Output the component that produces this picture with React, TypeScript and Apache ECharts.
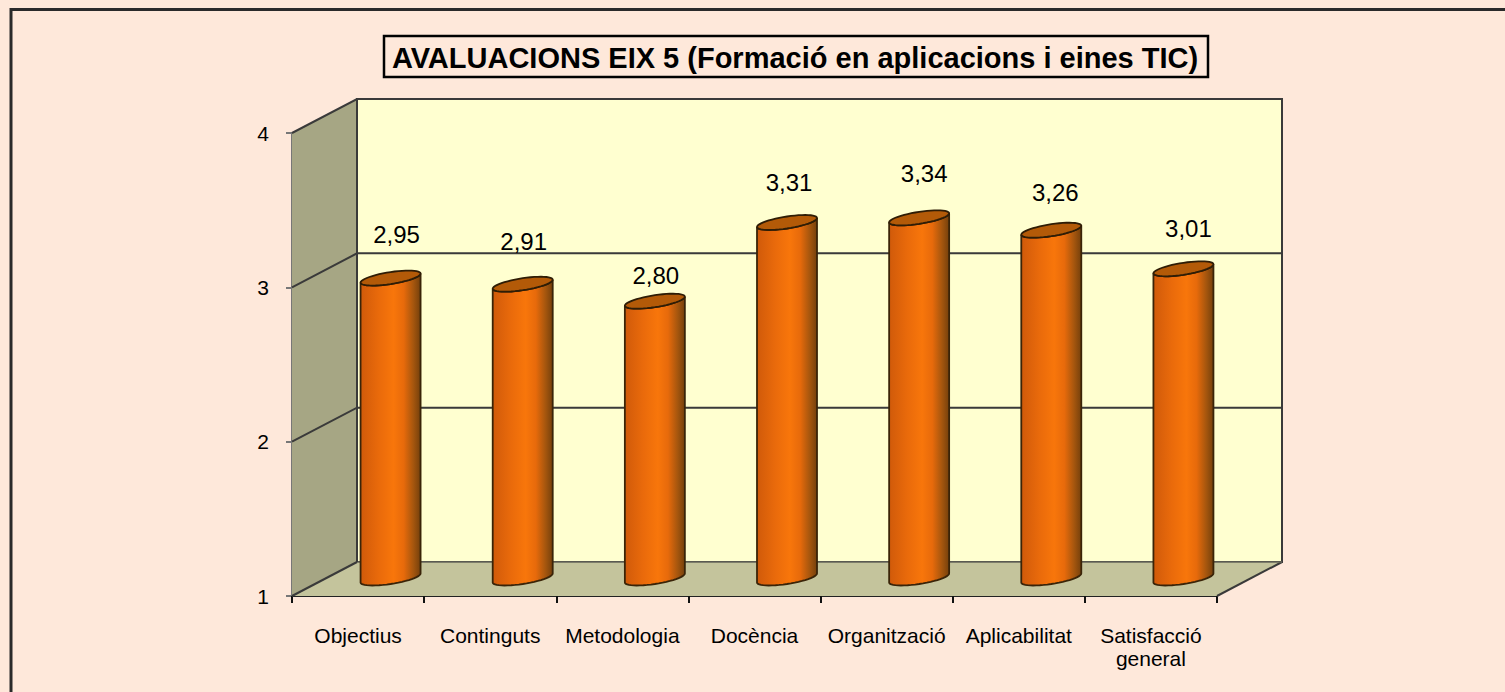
import React, { useEffect, useRef } from "react";
import * as echarts from "echarts";

const categories = ["Objectius", "Continguts", "Metodologia", "Docència", "Organització", "Aplicabilitat", "Satisfacció\ngeneral"];
const values = [2.95, 2.91, 2.8, 3.31, 3.34, 3.26, 3.01];
const valueLabels = ["2,95", "2,91", "2,80", "3,31", "3,34", "3,26", "3,01"];
const titleText = "AVALUACIONS EIX 5 (Formació en aplicacions i eines TIC)";
const gridValues = [2, 3, 4];

// the reference's value labels were hand-placed, each one differently from its bar
const labelShiftX = [6, 1, 1, 2, 5, 4, 5];
const labelLift = [44, 43, 26, 40, 44, 38, 40];

const DX = 65;
const DY = -34;
const BAR_OFFSET_X = 32.5;
const BAR_OFFSET_Y = -17;
const BASE_LIFT = 1;
const FONT = "Liberation Sans, Arial, sans-serif";
const LINE = "#3a3a3a";
const PAPER = "#FEE8DA";

function ellipsePath(cx: number, cy: number, rx: number, ry: number) {
  const t = -0.15;
  const pts: number[][] = [];
  for (let i = 0; i < 48; i++) {
    const a = (i / 48) * Math.PI * 2;
    const x = rx * Math.cos(a);
    const y = ry * Math.sin(a);
    pts.push([cx + x, cy + y + x * t]);
  }
  return pts;
}

function App() {
  const ref = useRef<HTMLDivElement>(null);
  useEffect(() => {
    const chart = echarts.init(ref.current!, null, { renderer: "svg" });
    const barGrad = new echarts.graphic.LinearGradient(0, 0, 1, 0, [
      { offset: 0, color: "#D05A0A" },
      { offset: 0.3, color: "#E96A0B" },
      { offset: 0.55, color: "#F8760B" },
      { offset: 0.72, color: "#E76A0B" },
      { offset: 0.88, color: "#A5560E" },
      { offset: 1, color: "#75400C" },
    ]);

    const renderBackdrop = (_p: any, api: any) => {
      const [x0, y1] = api.coord([0, 1]);
      const [, y4] = api.coord([0, 4]);
      const size = api.size([1, 0]);
      const left = x0 - size[0] / 2;
      const right = left + size[0] * categories.length;
      const children: any[] = [
        { type: "polygon", shape: { points: [[left, y1], [left + DX, y1 + DY], [left + DX, y4 + DY], [left, y4]] }, style: { fill: "#A6A684", stroke: "none" } },
        { type: "rect", shape: { x: left + DX, y: y4 + DY, width: right - left, height: y1 - y4 }, style: { fill: "#FFFFD0", stroke: LINE, lineWidth: 2 } },
        { type: "polygon", shape: { points: [[left, y1], [right, y1], [right + DX, y1 + DY], [left + DX, y1 + DY]] }, style: { fill: "#C4C49C", stroke: "none" } },
        { type: "line", shape: { x1: left, y1: y1, x2: left + DX, y2: y1 + DY }, style: { stroke: LINE, lineWidth: 2 } },
        { type: "line", shape: { x1: right, y1: y1, x2: right + DX, y2: y1 + DY }, style: { stroke: LINE, lineWidth: 2 } },
        { type: "line", shape: { x1: left + DX, y1: y1 + DY, x2: right + DX, y2: y1 + DY }, style: { stroke: "#66665a", lineWidth: 1.5 } },
        { type: "line", shape: { x1: left + DX, y1: y1 + DY, x2: left + DX, y2: y4 + DY }, style: { stroke: LINE, lineWidth: 2 } },
      ];
      gridValues.forEach((v) => {
        const [, y] = api.coord([0, v]);
        children.push({ type: "polyline", shape: { points: [[left, y], [left + DX, y + DY], [right + DX, y + DY]] }, style: { fill: "none", stroke: LINE, lineWidth: 2 } });
      });
      return { type: "group", children };
    };

    const renderBar = (_p: any, api: any) => {
      const idx = api.value(0);
      const [cx0, yBase] = api.coord([idx, 1]);
      const [, yTop] = api.coord([idx, api.value(1)]);
      const cx = cx0 + BAR_OFFSET_X;
      const rx = 30;
      const ry = 6;
      const top = yTop + BAR_OFFSET_Y;
      const bottom = yBase + BAR_OFFSET_Y - BASE_LIFT;
      const topPts = ellipsePath(cx, top, rx, ry);
      const botPts = ellipsePath(cx, bottom, rx, ry);
      const lowerHalf = (pts: number[][]) => pts.slice(0, 25);
      const body = [...lowerHalf(botPts), ...lowerHalf(topPts).reverse()];
      return {
        type: "group",
        children: [
          { type: "polygon", shape: { points: body }, style: { fill: barGrad, stroke: "#3a2408", lineWidth: 1.8 } },
          { type: "polygon", shape: { points: topPts }, style: { fill: "#B35A08", stroke: "#2f1d06", lineWidth: 1.8 } },
          {
            type: "text",
            x: cx + labelShiftX[idx],
            y: top - labelLift[idx],
            style: { text: valueLabels[idx], fill: "#000", font: `24px ${FONT}`, align: "center", verticalAlign: "middle" },
          },
        ],
      };
    };

    chart.setOption({
      animation: false,
      backgroundColor: PAPER,
      graphic: [
        { type: "rect", shape: { x: 11, y: 9.5, width: 1600, height: 1000 }, style: { fill: "none", stroke: "#2a2a2a", lineWidth: 3 }, silent: true },
        { type: "rect", shape: { x: 384, y: 36, width: 824, height: 41 }, style: { fill: PAPER, stroke: "#000", lineWidth: 2.5 } },
        { type: "text", x: 795, y: 58, style: { text: titleText, fill: "#000", font: `bold 29px ${FONT}`, align: "center", verticalAlign: "middle" } },
      ],
      grid: { left: 292, top: 133, width: 925, height: 463, containLabel: false },
      xAxis: {
        type: "category",
        data: categories,
        boundaryGap: true,
        axisLine: { lineStyle: { color: "#222", width: 2 } },
        axisTick: { show: true, length: 7, alignWithLabel: false, lineStyle: { color: "#111", width: 2 } },
        axisLabel: { color: "#000", fontFamily: "Liberation Sans", fontSize: 21, lineHeight: 23, margin: 28, interval: 0 },
      },
      yAxis: {
        type: "value",
        min: 1,
        max: 4,
        interval: 1,
        splitLine: { show: false },
        axisLine: { show: true, lineStyle: { color: "#777", width: 2 } },
        axisTick: { show: true, length: 6, lineStyle: { color: "#777", width: 2 } },
        axisLabel: { color: "#000", fontFamily: "Liberation Sans", fontSize: 21, margin: 23 },
      },
      series: [
        { type: "custom", z: 1, silent: true, data: [[0, 1]], renderItem: renderBackdrop, encode: { x: 0, y: 1 } },
        { type: "custom", z: 3, silent: true, data: values.map((v, i) => [i, v]), renderItem: renderBar, encode: { x: 0, y: 1 } },
      ],
    });
    return () => chart.dispose();
  }, []);
  return <div ref={ref} style={{ position: "fixed", left: 0, top: 0, width: 1505, height: 692 }} />;
}

export default App;
